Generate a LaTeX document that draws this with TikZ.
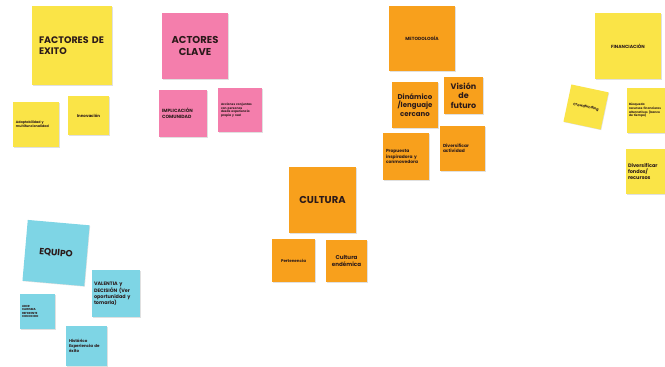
\documentclass[tikz,border=0pt]{standalone}
\usepackage{fontspec}
\setmainfont{Poppins}
\usetikzlibrary{shadows}
\definecolor{ylw}{HTML}{FAE447}
\definecolor{pnk}{HTML}{F47EAC}
\definecolor{org}{HTML}{F8A01C}
\definecolor{cyn}{HTML}{7ED5E5}
\definecolor{ink}{HTML}{2B1A1A}
\newcommand{\fs}[1]{\fontsize{#1pt}{\dimexpr #1pt*12/10\relax}\selectfont}
\tikzset{
  note/.style={inner sep=0pt, text=ink,
    drop shadow={shadow xshift=0.6pt, shadow yshift=-0.6pt, opacity=0.12, fill=black}},
  yn/.style={note, fill=ylw},
  pn/.style={note, fill=pnk},
  on/.style={note, fill=org},
  cn/.style={note, fill=cyn},
  sz/.style n args={2}{minimum width=#1pt, minimum height=#2pt},
  f/.style={font=\bfseries\fs{#1}},
}
\begin{document}
\begin{tikzpicture}[x=1pt,y=-1pt]
\useasboundingbox (0,0) rectangle (665,367);
\fill[white] (0,0) rectangle (665,367);
\clip (0,0) rectangle (665,367);
% Factores de exito
\node[yn, sz={80}{79}, text width=66pt, align=left, f=9.5] (fe) at (72,45.5) {FACTORES DE\\EXITO};
\node[yn, sz={46}{45}, text width=40pt, align=left, f=3.3] (adapt) at (36,124.5) {Adaptabilidad y\\multifuncionalidad};
\node[yn, sz={41}{39}, text width=35pt, align=center, f=4] (innov) at (88.5,115.5) {Innovación};
% Actores clave
\node[pn, sz={66}{66}, text width=60pt, align=center, f=10] (ac) at (195,46) {ACTORES\\CLAVE};
\node[pn, sz={48}{47}, text width=42pt, align=left, f=4.6] (impl) at (183,113.5) {IMPLICACIÓN\\COMUNIDAD};
\node[pn, sz={44}{44}, text width=38pt, align=left, f=3] (acc) at (240,110) {Acciones conjuntas\\con personas\\desde experiencia\\propia y real};
% Metodologia
\node[on, sz={66}{65}, text width=60pt, align=center, f=4.5] (met) at (422,38.5) {METODOLOGÍA};
\node[on, sz={46}{46}, text width=44pt, align=center, f=7] (din) at (415,105) {Dinámico\\/lenguaje\\cercano};
\node[on, sz={39}{37}, text width=37pt, align=center, f=8] (vis) at (463.5,95.5) {Visión\\de\\futuro};
\node[on, sz={46}{47}, text width=40pt, align=left, f=4.4] (prop) at (406,156.5) {Propuesta\\inspiradora y\\conmovedora};
\node[on, sz={45}{45}, text width=39pt, align=left, f=4.4] (divact) at (462.5,148.5) {Diversificar\\actividad};
% Financiacion
\node[yn, sz={66}{66}, text width=60pt, align=center, f=4.5] (fin) at (628,46) {FINANCIACIÓN};
\node[yn, sz={38}{38}, text width=34pt, align=center, rotate=-12, f=3.5] (crowd) at (586,107) {Crowdfunding};
\node[yn, sz={40}{45}, text width=36pt, align=left, f=3] (busq) at (647,110.5) {Búsqueda\\recursos financieros\\alternativos (banco\\de tiempo)};
\node[yn, sz={40}{45}, text width=36pt, align=left, f=5] (divfon) at (646,171.5) {Diversificar\\fondos/\\recursos};
% Cultura
\node[on, sz={67}{66}, text width=60pt, align=center, f=10] (cul) at (322.5,200) {CULTURA};
\node[on, sz={43}{43}, text width=40pt, align=center, f=4] (pert) at (293.5,260.5) {Pertenencia};
\node[on, sz={41}{42}, text width=39pt, align=center, f=5.6] (cend) at (346.5,261) {Cultura\\endémica};
% Equipo
\node[cn, sz={62}{61}, text width=56pt, align=center, rotate=-5, f=9] (eq) at (56,253) {EQUIPO};
\node[cn, sz={48}{47}, text width=44pt, align=left, f=4.9] (val) at (116,293.5) {VALENTIA y\\DECISIÓN (Ver\\oportunidad y\\tomarla)};
\node[cn, sz={35}{35}, text width=31pt, align=left, f=2.9] (lid) at (37.5,311.5) {LIDER\\CARISMA\\REFERENTE\\CONOCIDO};
\node[cn, sz={41}{40}, text width=35pt, align=left, f=4] (hist) at (86.5,346) {Histórico\\Experiencia de\\éxito};
\end{tikzpicture}
\end{document}
